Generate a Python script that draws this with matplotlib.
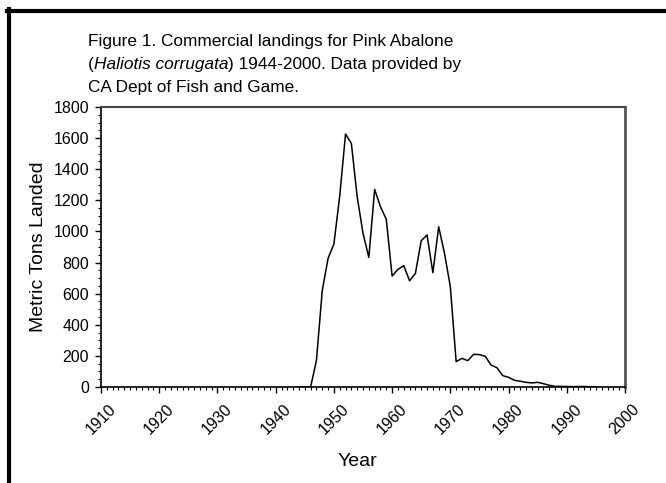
import numpy as np
import matplotlib
import matplotlib.pyplot as plt
from matplotlib.lines import Line2D
from matplotlib.ticker import MultipleLocator
matplotlib.use('Agg')

plt.rcParams['font.family'] = ['Liberation Sans', 'DejaVu Sans']

# Pink abalone landings, metric tons
years = list(range(1944, 1996))
landings = [0, 0, 0, 170, 620, 827, 919, 1227, 1626, 1566,
            1223, 988, 833, 1270, 1159, 1078, 713, 756, 780, 683,
            730, 940, 977, 735, 1030, 859, 645, 163, 184, 169,
            210, 208, 197, 141, 124, 73, 62, 43, 37, 30,
            26, 30, 21, 11, 4, 4, 3, 2, 3, 3,
            2, 1]

x_ticks = list(range(1910, 2001, 10))
y_ticks = list(range(0, 1801, 200))

fig = plt.figure(figsize=(6.66, 4.83), dpi=100)
ax = fig.add_axes([0.1517, 0.1988, 0.7867, 0.5797])

ax.plot(years, landings, color='black', lw=1.1)

ax.set_xlim(1910, 2000)
ax.set_ylim(0, 1800)
ax.set_xticks(x_ticks)
ax.set_yticks(y_ticks)
ax.xaxis.set_minor_locator(MultipleLocator(1))
ax.yaxis.set_minor_locator(MultipleLocator(50))
ax.tick_params(which='major', length=4.5, width=1, direction='out', labelsize=11.5)
ax.tick_params(axis='y', which='major', pad=4)
ax.tick_params(axis='x', which='major', pad=6)
ax.tick_params(which='minor', length=2.5, width=0.8, direction='out')
ax.set_xticklabels([str(t) for t in x_ticks], rotation=45, ha='center', va='top')

for s in ['left', 'bottom']:
    ax.spines[s].set_color('black')
    ax.spines[s].set_linewidth(1.2)
ax.spines['top'].set_color('#444444')
ax.spines['top'].set_linewidth(1.5)
ax.spines['right'].set_color('#555555')
ax.spines['right'].set_linewidth(2)

fig.text(0.536, 0.044, 'Year', ha='center', va='center', fontsize=14)
fig.text(0.058, 0.49, 'Metric Tons Landed', ha='center', va='center',
         rotation=90, fontsize=14)

# title block, three lines with the species name in italics
fs = 12.4
fig.text(0.132, 0.915, 'Figure 1. Commercial landings for Pink Abalone',
         ha='left', va='center', fontsize=fs)
t1 = fig.text(0.132, 0.867, '(', ha='left', va='center', fontsize=fs)
fig.canvas.draw()
r = fig.canvas.get_renderer()
bb = t1.get_window_extent(r)
t2 = fig.text(bb.x1 / 666, 0.867, 'Haliotis corrugata', ha='left', va='center',
              fontsize=fs, style='italic')
bb = t2.get_window_extent(r)
fig.text(bb.x1 / 666, 0.867, ') 1944-2000. Data provided by', ha='left',
         va='center', fontsize=fs)
fig.text(0.132, 0.818, 'CA Dept of Fish and Game.', ha='left', va='center',
         fontsize=fs)

# page border (top and left)
fig.add_artist(Line2D([9.3 / 666, 9.3 / 666], [0, 1 - 9.3 / 483],
                      transform=fig.transFigure, color='black', lw=3))
fig.add_artist(Line2D([7.3 / 666, 1], [1 - 11.3 / 483, 1 - 11.3 / 483],
                      transform=fig.transFigure, color='black', lw=3))

fig.savefig('out.png', dpi=100)
